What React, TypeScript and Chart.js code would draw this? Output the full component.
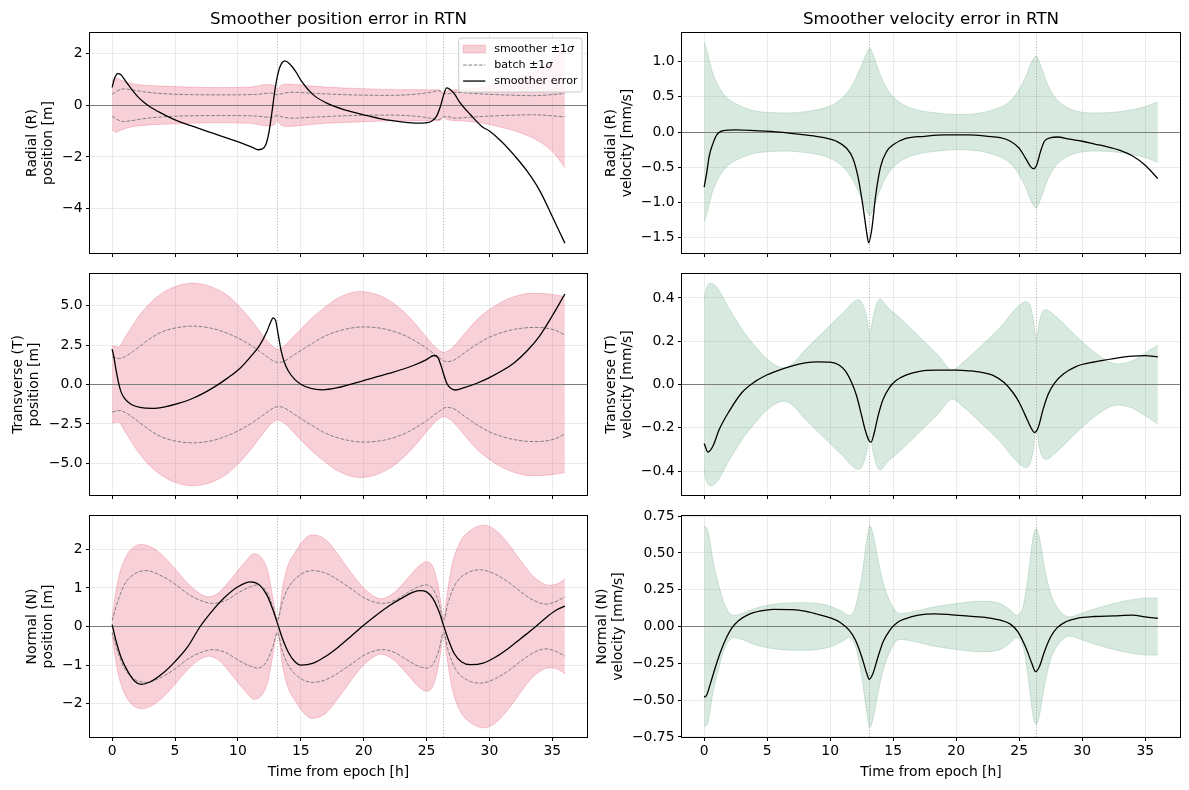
import React, { useEffect, useRef } from "react";
import { Chart, registerables } from "chart.js";

Chart.register(...registerables);
Chart.defaults.font.family = '"DejaVu Sans", sans-serif';
Chart.defaults.font.size = 13.9;
Chart.defaults.color = "#000";

// ---------------- shared axis data ----------------
const timeTicks = [0, 5, 10, 15, 20, 25, 30, 35];
const timeTickLabels = ["0", "5", "10", "15", "20", "25", "30", "35"];
const timeRange = [-1.8, 37.8];
const measurementTimes = [13.15, 26.35];
const panelTitles = ["Smoother position error in RTN", "Smoother velocity error in RTN"];
const xAxisLabel = "Time from epoch [h]";
const legendLabels = ["smoother ±1σ", "batch ±1σ", "smoother error"];

// ---------------- Radial position [m] ----------------
const posRLabel = ["Radial (R)", "position [m]"];
const posRTicks = [-4, -2, 0, 2];
const posRTickLabels = ["−4", "−2", "0", "2"];
const posRRange = [-5.73, 2.81];
const posRErr = [[0,0.69],[0.2,1.05],[0.45,1.22],[0.7,1.18],[1.1,0.91],[1.5,0.65],[2.0,0.35],[2.5,0.12],[3.0,-0.06],[4.0,-0.33],[5.0,-0.57],[6.5,-0.83],[8.0,-1.08],[9.5,-1.33],[10.5,-1.5],[11.2,-1.64],[11.6,-1.72],[11.9,-1.7],[12.2,-1.55],[12.45,-1.1],[12.7,-0.3],[12.95,0.6],[13.2,1.25],[13.45,1.6],[13.75,1.71],[14.1,1.6],[14.6,1.3],[15.0,0.97],[16.0,0.4],[17.25,0.04],[18.5,-0.18],[20.0,-0.37],[21.5,-0.54],[23.0,-0.64],[24.3,-0.69],[24.9,-0.68],[25.4,-0.62],[25.8,-0.42],[26.1,-0.05],[26.35,0.38],[26.6,0.67],[26.9,0.6],[27.3,0.38],[27.6,0.14],[28.5,-0.37],[29.4,-0.82],[30.0,-1.0],[31.0,-1.42],[32.0,-1.95],[33.0,-2.55],[34.0,-3.3],[35.0,-4.3],[36.0,-5.33]];
const posRSigma = [[0,0.95],[0.3,1.05],[0.7,0.97],[1.2,0.88],[2,0.8],[3,0.76],[5,0.72],[8,0.68],[11,0.7],[12.3,0.8],[12.9,0.76],[13.15,0.6],[13.4,0.76],[14,0.82],[15,0.78],[17,0.7],[20,0.64],[23,0.6],[25,0.6],[26,0.6],[26.35,0.48],[26.7,0.56],[27.5,0.6],[28.5,0.63],[29.5,0.7],[30.5,0.8],[31.5,0.92],[32.5,1.07],[33.5,1.28],[34.5,1.58],[35.3,1.95],[36,2.42]];
const posRBatch = [[0,0.42],[0.4,0.55],[0.9,0.63],[1.5,0.6],[2.5,0.52],[4,0.45],[6,0.41],[9,0.4],[11.5,0.42],[12.6,0.47],[13.15,0.4],[13.6,0.46],[14.3,0.5],[16,0.46],[19,0.4],[22,0.38],[24,0.42],[25.3,0.5],[26,0.56],[26.35,0.45],[26.7,0.44],[27.2,0.5],[28.5,0.46],[31,0.4],[33.5,0.37],[36,0.45]];

// ---------------- Transverse position [m] ----------------
const posTLabel = ["Transverse (T)", "position [m]"];
const posTTicks = [-5, -2.5, 0, 2.5, 5];
const posTTickLabels = ["−5.0", "−2.5", "0.0", "2.5", "5.0"];
const posTRange = [-7.04, 7.04];
const posTErr = [[0,2.25],[0.15,1.7],[0.3,0.97],[0.5,0.15],[0.7,-0.45],[1.0,-0.9],[1.5,-1.25],[2.2,-1.45],[3.2,-1.52],[4.2,-1.42],[5.2,-1.22],[6.2,-0.95],[7.2,-0.58],[8.2,-0.12],[9.2,0.42],[10.2,1.05],[11.0,1.75],[11.7,2.45],[12.3,3.35],[12.6,3.95],[12.8,4.22],[13.0,4.05],[13.2,3.2],[13.45,2.1],[13.7,1.4],[14.0,0.87],[14.5,0.34],[15.0,0.02],[15.8,-0.25],[16.7,-0.34],[18.0,-0.19],[20.0,0.25],[22.0,0.7],[24.0,1.22],[25.0,1.58],[25.6,1.84],[25.9,1.72],[26.15,1.2],[26.4,0.55],[26.65,0.02],[26.95,-0.25],[27.3,-0.35],[28.0,-0.2],[29.0,0.08],[30.0,0.44],[31.0,0.87],[32.0,1.4],[33.0,2.14],[34.0,3.09],[35.0,4.36],[36.0,5.74]];
const posTSigma = [[0,2.45],[0.5,2.38],[1,2.95],[2,4.2],[3,5.15],[4,5.8],[5,6.2],[6.3,6.42],[7.5,6.3],[9,5.75],[10,5.05],[11,4.15],[12,3.1],[12.7,2.45],[13.15,2.25],[13.6,2.4],[14.5,3.1],[16,4.3],[17,4.95],[18,5.5],[19.7,5.9],[21,5.72],[22,5.35],[23,4.75],[24,3.95],[25,3.0],[25.8,2.3],[26.35,2.05],[27,2.3],[28,3.2],[29,4.1],[30,4.75],[31,5.25],[32,5.58],[33.3,5.78],[34.5,5.75],[35.5,5.65],[36,5.58]];
const posTBatch = [[0,1.75],[0.6,1.65],[1.2,1.85],[2,2.3],[3,2.9],[4,3.35],[5.5,3.65],[6.5,3.7],[8,3.55],[9,3.3],[10,2.95],[11,2.5],[12,1.95],[12.8,1.5],[13.15,1.4],[13.6,1.45],[14.5,1.9],[16,2.65],[17,3.1],[18.5,3.5],[20,3.65],[21.5,3.55],[23,3.2],[24,2.8],[25,2.3],[26,1.7],[26.6,1.45],[27.2,1.55],[28,2.0],[29,2.55],[30,3.0],[31,3.3],[32,3.5],[33.5,3.62],[34.5,3.58],[35.3,3.42],[36,3.13]];

// ---------------- Normal position [m] ----------------
const posNLabel = ["Normal (N)", "position [m]"];
const posNTicks = [-2, -1, 0, 1, 2];
const posNTickLabels = ["−2", "−1", "0", "1", "2"];
const posNRange = [-2.88, 2.88];
const posNErr = [[0,0.05],[0.3,-0.36],[0.7,-0.79],[1.2,-1.14],[1.8,-1.42],[2.3,-1.5],[3,-1.44],[4,-1.22],[5,-0.91],[6,-0.53],[7,0.0],[8,0.42],[9,0.77],[10,1.03],[11,1.16],[11.7,1.08],[12.3,0.82],[12.8,0.42],[13.15,0.08],[13.5,-0.27],[14,-0.66],[14.5,-0.9],[15,-1.0],[16,-0.95],[17,-0.77],[18,-0.53],[19,-0.25],[20,0.03],[21,0.29],[22,0.53],[23,0.73],[24,0.9],[24.5,0.93],[25,0.9],[25.5,0.73],[26,0.38],[26.35,0.03],[26.7,-0.31],[27.2,-0.7],[27.8,-0.92],[28.5,-0.99],[29.5,-0.95],[30.5,-0.79],[31.5,-0.57],[32.5,-0.31],[33.5,-0.05],[34.5,0.23],[35.3,0.42],[36,0.53]];
const posNSigma = [[0,0.2],[0.2,0.7],[0.5,1.25],[1,1.75],[1.5,2.0],[2.3,2.13],[3,2.08],[4,1.85],[5,1.5],[6,1.12],[7,0.85],[7.7,0.77],[8.5,0.88],[9.5,1.25],[10.5,1.65],[11.3,1.89],[12.1,1.68],[12.4,1.4],[12.75,0.8],[13.15,0.2],[13.6,1.1],[14,1.6],[14.5,1.9],[15.4,2.3],[15.9,2.38],[17,2.25],[18,1.85],[19,1.4],[20,1.0],[21,0.75],[21.4,0.72],[22.5,0.9],[23.5,1.25],[24.5,1.6],[25,1.68],[25.5,1.55],[25.9,1.1],[26.15,0.6],[26.35,0.2],[26.6,0.75],[27,1.55],[27.6,2.15],[28.5,2.5],[29.6,2.63],[30.5,2.5],[31.5,2.15],[32.5,1.7],[33.5,1.3],[34.8,1.07],[35.5,1.12],[36,1.23]];
const posNBatch = [[0,0.15],[0.5,0.7],[1,1.1],[1.7,1.35],[2.7,1.45],[4,1.3],[5,1.1],[6,0.85],[7,0.68],[8,0.6],[9,0.67],[10,0.87],[11,1.03],[11.6,1.08],[12.3,0.9],[12.8,0.5],[13.15,0.15],[13.5,0.6],[14,1.0],[15,1.35],[16,1.45],[17,1.38],[18,1.2],[19,0.98],[20,0.75],[21,0.62],[21.5,0.6],[22.5,0.68],[23.5,0.88],[24.5,1.05],[25,1.08],[25.5,0.98],[26,0.6],[26.35,0.15],[26.7,0.6],[27.3,1.1],[28.3,1.4],[29.3,1.47],[30.5,1.35],[31.5,1.15],[32.5,0.9],[33.5,0.68],[34.5,0.58],[35.3,0.65],[36,0.77]];

// ---------------- Radial velocity [mm/s] ----------------
const velRLabel = ["Radial (R)", "velocity [mm/s]"];
const velRTicks = [-1.5, -1, -0.5, 0, 0.5, 1];
const velRTickLabels = ["−1.5", "−1.0", "−0.5", "0.0", "0.5", "1.0"];
const velRRange = [-1.7225, 1.4125];
const velRErr = [[0,-0.78],[0.2,-0.58],[0.4,-0.34],[0.7,-0.16],[1.0,-0.04],[1.5,0.02],[2.5,0.03],[4,0.02],[6,0.0],[8,-0.04],[9.5,-0.08],[10.5,-0.13],[11.3,-0.23],[11.8,-0.37],[12.2,-0.63],[12.6,-1.05],[12.9,-1.43],[13.05,-1.57],[13.3,-1.38],[13.6,-0.91],[14,-0.49],[14.5,-0.27],[15,-0.18],[16,-0.09],[17.5,-0.06],[19,-0.04],[21,-0.04],[22.5,-0.06],[23.5,-0.08],[24.3,-0.13],[25,-0.23],[25.5,-0.37],[25.9,-0.49],[26.15,-0.52],[26.4,-0.46],[26.7,-0.27],[27,-0.13],[27.5,-0.08],[28,-0.07],[29,-0.1],[30,-0.13],[31,-0.17],[32,-0.21],[33,-0.26],[34,-0.34],[35,-0.47],[36,-0.66]];
const velRSigma = [[0,1.27],[0.3,1.1],[0.6,0.88],[1,0.7],[1.5,0.55],[2,0.46],[3,0.36],[4,0.3],[5,0.28],[6.5,0.27],[8,0.29],[9.5,0.34],[10.5,0.42],[11.3,0.55],[12,0.75],[12.5,0.95],[12.9,1.12],[13.15,1.19],[13.4,1.1],[13.8,0.9],[14.3,0.68],[15,0.5],[16,0.37],[17,0.31],[18.5,0.27],[20,0.25],[21.5,0.26],[23,0.32],[24,0.4],[24.8,0.55],[25.5,0.78],[26,1.0],[26.35,1.08],[26.7,0.95],[27.2,0.7],[27.8,0.5],[28.5,0.38],[29.5,0.3],[31,0.27],[32.5,0.28],[34,0.32],[35,0.36],[36,0.43]];

// ---------------- Transverse velocity [mm/s] ----------------
const velTLabel = ["Transverse (T)", "velocity [mm/s]"];
const velTTicks = [-0.4, -0.2, 0, 0.2, 0.4];
const velTTickLabels = ["−0.4", "−0.2", "0.0", "0.2", "0.4"];
const velTRange = [-0.513, 0.513];
const velTErr = [[0,-0.273],[0.3,-0.312],[0.7,-0.284],[1.2,-0.207],[2,-0.122],[3,-0.037],[4,0.012],[5,0.045],[6,0.068],[7,0.086],[8,0.1],[9,0.105],[10,0.103],[10.7,0.09],[11.2,0.063],[11.7,0.009],[12.1,-0.053],[12.5,-0.145],[12.8,-0.215],[13.1,-0.261],[13.25,-0.266],[13.5,-0.222],[13.8,-0.145],[14.2,-0.068],[14.7,-0.014],[15.2,0.017],[16,0.043],[17,0.06],[18.5,0.066],[20,0.066],[21,0.063],[22,0.056],[23,0.04],[23.8,0.009],[24.5,-0.037],[25,-0.083],[25.5,-0.145],[26,-0.207],[26.2,-0.222],[26.5,-0.2],[26.9,-0.114],[27.3,-0.045],[27.8,0.006],[28.5,0.048],[29.5,0.083],[31,0.105],[32.5,0.12],[34,0.131],[35,0.133],[36,0.128]];
const velTSigma = [[0,0.392],[0.15,0.44],[0.5,0.468],[1,0.45],[2,0.349],[3,0.255],[4,0.18],[5,0.117],[6.3,0.077],[7,0.095],[8,0.16],[9.5,0.245],[11,0.33],[12.24,0.392],[12.6,0.37],[12.9,0.31],[13.15,0.24],[13.4,0.31],[13.7,0.375],[13.97,0.395],[14.5,0.36],[15.5,0.31],[17,0.225],[18.5,0.14],[19.7,0.068],[20.5,0.1],[22,0.18],[23.5,0.265],[24.8,0.355],[25.5,0.383],[25.9,0.36],[26.15,0.29],[26.35,0.21],[26.6,0.29],[26.85,0.335],[27.1,0.346],[28,0.31],[29.5,0.225],[31,0.148],[32.8,0.095],[34,0.11],[35,0.145],[36,0.182]];

// ---------------- Normal velocity [mm/s] ----------------
const velNLabel = ["Normal (N)", "velocity [mm/s]"];
const velNTicks = [-0.75, -0.5, -0.25, 0, 0.25, 0.5, 0.75];
const velNTickLabels = ["−0.75", "−0.50", "−0.25", "0.00", "0.25", "0.50", "0.75"];
const velNRange = [-0.754, 0.754];
const velNErr = [[0,-0.48],[0.2,-0.465],[0.5,-0.386],[0.9,-0.273],[1.3,-0.171],[1.8,-0.07],[2.2,-0.009],[2.7,0.038],[3.5,0.081],[4.5,0.106],[5.5,0.117],[7,0.115],[8,0.104],[9,0.083],[10,0.059],[10.8,0.027],[11.5,-0.025],[12,-0.092],[12.5,-0.205],[12.9,-0.318],[13.1,-0.359],[13.4,-0.318],[13.8,-0.205],[14.2,-0.104],[14.7,-0.029],[15.3,0.025],[16,0.054],[17,0.077],[18.3,0.086],[19.5,0.081],[21,0.07],[22.5,0.059],[23.5,0.043],[24.3,0.016],[24.9,-0.036],[25.5,-0.138],[26,-0.25],[26.3,-0.307],[26.6,-0.273],[27,-0.171],[27.5,-0.07],[28,-0.009],[28.7,0.032],[29.5,0.054],[31,0.068],[32.5,0.072],[34,0.077],[35,0.065],[36,0.056]];
const velNSigma = [[0,0.683],[0.3,0.65],[0.7,0.449],[1.2,0.268],[1.7,0.133],[2.4,0.075],[3,0.088],[4,0.122],[5,0.144],[6,0.156],[7.5,0.162],[9,0.156],[10,0.138],[11,0.099],[11.5,0.074],[12,0.133],[12.5,0.336],[12.9,0.584],[13.15,0.685],[13.4,0.629],[13.8,0.449],[14.3,0.268],[14.9,0.144],[15.5,0.088],[16.5,0.099],[18,0.129],[20,0.156],[22,0.171],[23.5,0.156],[24.3,0.11],[24.8,0.077],[25.3,0.133],[25.7,0.336],[26.1,0.607],[26.35,0.665],[26.6,0.607],[27,0.404],[27.5,0.223],[28.2,0.11],[29,0.065],[30,0.092],[31.5,0.133],[33,0.167],[34.5,0.189],[35.3,0.194],[36,0.194]];

// ---------------- styling / layout ----------------
const FS_TICK = 13.9;
const FS_TITLE = 16.67;
const FS_LEGEND = 11.1;
const themes: any = {
  pos: { fill: "rgba(220,20,60,0.2)", edge: "rgba(220,20,60,0.2)" },
  vel: { fill: "rgba(46,139,87,0.19)", edge: "rgba(46,139,87,0.19)" },
};
const GRID = "#e6e6e6";

type Panel = {
  left: number; top: number; w: number; h: number;
  yAxisW: number; xAxisH: number; padTop: number; padRight: number;
  yTitlePad: number; yLabel: string[]; yTicks: number[]; yTickLabels: string[]; yRange: number[];
  err: number[][]; sigma: number[][]; batch?: number[][];
  theme: string; showX: boolean; title?: string; legend?: boolean;
};

const colL = { left: 0, w: 592, yAxisW: 89.5, padRight: 4.5 };
const colR = { left: 592, w: 597, yAxisW: 89.5, padRight: 8.5 };
const row1 = { top: 0, h: 263, padTop: 32.5, xAxisH: 9.5, showX: false };
const row2 = { top: 263, h: 242, padTop: 10.5, xAxisH: 9.5, showX: false };
const row3 = { top: 505, h: 285, padTop: 10.5, xAxisH: 52.5, showX: true };

const panels: Panel[] = [
  { ...colL, ...row1, yTitlePad: 24, yLabel: posRLabel, yTicks: posRTicks, yTickLabels: posRTickLabels, yRange: posRRange, err: posRErr, sigma: posRSigma, batch: posRBatch, theme: "pos", title: panelTitles[0], legend: true },
  { ...colL, ...row2, yTitlePad: 10.8, yLabel: posTLabel, yTicks: posTTicks, yTickLabels: posTTickLabels, yRange: posTRange, err: posTErr, sigma: posTSigma, batch: posTBatch, theme: "pos" },
  { ...colL, ...row3, yTitlePad: 24, yLabel: posNLabel, yTicks: posNTicks, yTickLabels: posNTickLabels, yRange: posNRange, err: posNErr, sigma: posNSigma, batch: posNBatch, theme: "pos" },
  { ...colR, ...row1, yTitlePad: 11.2, yLabel: velRLabel, yTicks: velRTicks, yTickLabels: velRTickLabels, yRange: velRRange, err: velRErr, sigma: velRSigma, theme: "vel", title: panelTitles[1] },
  { ...colR, ...row2, yTitlePad: 11.2, yLabel: velTLabel, yTicks: velTTicks, yTickLabels: velTTickLabels, yRange: velTRange, err: velTErr, sigma: velTSigma, theme: "vel" },
  { ...colR, ...row3, yTitlePad: 2.3, yLabel: velNLabel, yTicks: velNTicks, yTickLabels: velNTickLabels, yRange: velNRange, err: velNErr, sigma: velNSigma, theme: "vel" },
];

const toPts = (pairs: number[][], sign = 1) => pairs.map(([x, y]) => ({ x, y: sign * y }));

function drawLegendLabel(ctx: CanvasRenderingContext2D, text: string, x: number, y: number, draw: boolean) {
  const normal = `${FS_LEGEND}px "DejaVu Sans"`;
  const italic = `italic ${FS_LEGEND}px "DejaVu Sans"`;
  let head = text, tail = "";
  if (text.endsWith("σ")) { head = text.slice(0, -1); tail = "σ"; }
  ctx.font = normal;
  const w1 = ctx.measureText(head).width;
  if (draw) ctx.fillText(head, x, y);
  let w2 = 0;
  if (tail) {
    ctx.font = italic;
    w2 = ctx.measureText(tail).width;
    if (draw) ctx.fillText(tail, x + w1, y);
  }
  return w1 + w2;
}

function makePlugin(p: Panel) {
  return {
    id: "decor",
    beforeDatasetDraw(chart: any, args: any) {
      if (args.index !== 0) return;
      const { ctx, chartArea: a, scales } = chart;
      ctx.save();
      ctx.beginPath();
      ctx.rect(a.left, a.top, a.right - a.left, a.bottom - a.top);
      ctx.clip();
      ctx.strokeStyle = "#9c9c9c";
      ctx.lineWidth = 0.8;
      ctx.setLineDash([1.1, 1.8]);
      measurementTimes.forEach((t) => {
        const px = Math.floor(scales.x.getPixelForValue(t)) + 0.5;
        ctx.beginPath();
        ctx.moveTo(px, a.top);
        ctx.lineTo(px, a.bottom);
        ctx.stroke();
      });
      ctx.setLineDash([]);
      const y0 = Math.floor(scales.y.getPixelForValue(0)) + 0.5;
      ctx.strokeStyle = "#7f7f7f";
      ctx.lineWidth = 1;
      ctx.beginPath();
      ctx.moveTo(a.left, y0);
      ctx.lineTo(a.right, y0);
      ctx.stroke();
      ctx.restore();
    },
    afterDatasetsDraw(chart: any) {
      const { ctx, chartArea: a } = chart;
      ctx.save();
      ctx.strokeStyle = "#000";
      ctx.lineWidth = 1;
      ctx.strokeRect(a.left, a.top, a.right - a.left, a.bottom - a.top);
      if (p.title) {
        ctx.fillStyle = "#000";
        ctx.font = `${FS_TITLE}px "DejaVu Sans"`;
        ctx.textAlign = "center";
        ctx.textBaseline = "alphabetic";
        ctx.fillText(p.title, (a.left + a.right) / 2, a.top - 8.3);
      }
      ctx.restore();
    },
    afterDraw(chart: any) {
      if (!p.legend) return;
      const { ctx, chartArea: a } = chart;
      const th = themes[p.theme];
      ctx.save();
      ctx.textAlign = "left";
      ctx.textBaseline = "middle";
      const widths = legendLabels.map((l) => drawLegendLabel(ctx, l, 0, 0, false));
      const pad = 0.4 * FS_LEGEND, handle = 2 * FS_LEGEND, gap = 0.8 * FS_LEGEND;
      const w = pad * 2 + handle + gap + Math.max(...widths);
      const right = a.right - 0.5 * FS_LEGEND;
      const top = a.top + 0.5 * FS_LEGEND;
      const left = right - w;
      const rowH = 16;
      const h = 22 + rowH * (legendLabels.length - 1);
      ctx.beginPath();
      (ctx as any).roundRect(left, top, w, h, 2.5);
      ctx.fillStyle = "rgba(255,255,255,0.8)";
      ctx.fill();
      ctx.strokeStyle = "#cccccc";
      ctx.lineWidth = 1;
      ctx.stroke();
      const hx = left + pad;
      legendLabels.forEach((lab, i) => {
        const cy = top + 11 + i * rowH;
        if (i === 0) {
          ctx.fillStyle = th.fill;
          ctx.fillRect(hx, cy - 3.9, handle, 7.8);
          ctx.strokeStyle = th.edge;
          ctx.lineWidth = 1;
          ctx.strokeRect(hx, cy - 3.9, handle, 7.8);
        } else {
          ctx.beginPath();
          ctx.moveTo(hx, cy);
          ctx.lineTo(hx + handle, cy);
          ctx.strokeStyle = i === 1 ? "#808080" : "#000";
          ctx.lineWidth = i === 1 ? 1 : 1.3;
          ctx.setLineDash(i === 1 ? [3.7, 1.6] : []);
          ctx.stroke();
          ctx.setLineDash([]);
        }
        ctx.fillStyle = "#000";
        drawLegendLabel(ctx, lab, hx + handle + gap, cy, true);
      });
      ctx.restore();
    },
  };
}

function buildConfig(p: Panel): any {
  const th = themes[p.theme];
  const line = { pointRadius: 0, cubicInterpolationMode: "monotone", borderJoinStyle: "round" };
  const datasets: any[] = [
    { ...line, label: legendLabels[2], data: toPts(p.err), borderColor: "#000", borderWidth: 1.3, fill: false },
  ];
  if (p.batch) {
    datasets.push({ ...line, label: legendLabels[1], data: toPts(p.batch), borderColor: "#808080", borderWidth: 1, borderDash: [3.7, 1.6], fill: false });
    datasets.push({ ...line, label: "batch lower", data: toPts(p.batch, -1), borderColor: "#808080", borderWidth: 1, borderDash: [3.7, 1.6], fill: false });
  }
  datasets.push({ ...line, label: legendLabels[0], data: toPts(p.sigma), borderColor: th.edge, backgroundColor: th.fill, borderWidth: 1, fill: "+1" });
  datasets.push({ ...line, label: "smoother lower", data: toPts(p.sigma, -1), borderColor: th.edge, borderWidth: 1, fill: false });

  const grid = { color: GRID, lineWidth: 0.8, tickLength: 3.5, tickColor: "#000", tickWidth: 1, drawTicks: true };
  return {
    type: "line",
    data: { datasets },
    plugins: [makePlugin(p)],
    options: {
      animation: false,
      responsive: false,
      events: [],
      layout: { padding: { left: 0, right: p.padRight, top: p.padTop, bottom: 0 } },
      plugins: { legend: { display: false }, tooltip: { enabled: false }, title: { display: false } },
      scales: {
        x: {
          type: "linear",
          min: timeRange[0],
          max: timeRange[1],
          afterBuildTicks: (s: any) => { s.ticks = timeTicks.map((v) => ({ value: v })); },
          afterFit: (s: any) => {
            s.height = p.xAxisH;
            s.paddingLeft = 0; s.paddingRight = 0; s.paddingTop = 0; s.paddingBottom = 0;
          },
          ticks: {
            display: p.showX,
            autoSkip: false,
            maxRotation: 0,
            minRotation: 0,
            padding: 2.2,
            color: "#000",
            font: { size: FS_TICK },
            callback: (_v: any, i: number) => timeTickLabels[i],
          },
          grid,
          border: { display: false },
          title: {
            display: p.showX,
            text: xAxisLabel,
            color: "#000",
            font: { size: FS_TICK, lineHeight: "16px" },
            padding: { top: 0, bottom: 10 },
          },
        },
        y: {
          type: "linear",
          min: p.yRange[0],
          max: p.yRange[1],
          afterBuildTicks: (s: any) => { s.ticks = p.yTicks.map((v) => ({ value: v })); },
          afterFit: (s: any) => {
            s.width = p.yAxisW;
            s.paddingLeft = 0; s.paddingRight = 0; s.paddingTop = 0; s.paddingBottom = 0;
          },
          ticks: {
            autoSkip: false,
            padding: 3.5,
            color: "#000",
            font: { size: FS_TICK },
            callback: (_v: any, i: number) => p.yTickLabels[i],
          },
          grid,
          border: { display: false },
          title: {
            display: true,
            text: p.yLabel,
            color: "#000",
            font: { size: FS_TICK, lineHeight: "16px" },
            padding: { top: p.yTitlePad, bottom: 0 },
          },
        },
      },
    },
  };
}

function PanelChart({ p }: { p: Panel }) {
  const ref = useRef<HTMLCanvasElement | null>(null);
  useEffect(() => {
    if (!ref.current) return;
    const chart = new Chart(ref.current, buildConfig(p));
    return () => chart.destroy();
  }, [p]);
  return (
    <canvas
      ref={ref}
      width={p.w}
      height={p.h}
      style={{ position: "absolute", left: p.left, top: p.top, width: p.w, height: p.h }}
    />
  );
}

export default function App() {
  return (
    <div style={{ position: "absolute", left: 0, top: 0, width: 1189, height: 790, background: "#fff", overflow: "hidden" }}>
      {panels.map((p, i) => (
        <PanelChart key={i} p={p} />
      ))}
    </div>
  );
}
